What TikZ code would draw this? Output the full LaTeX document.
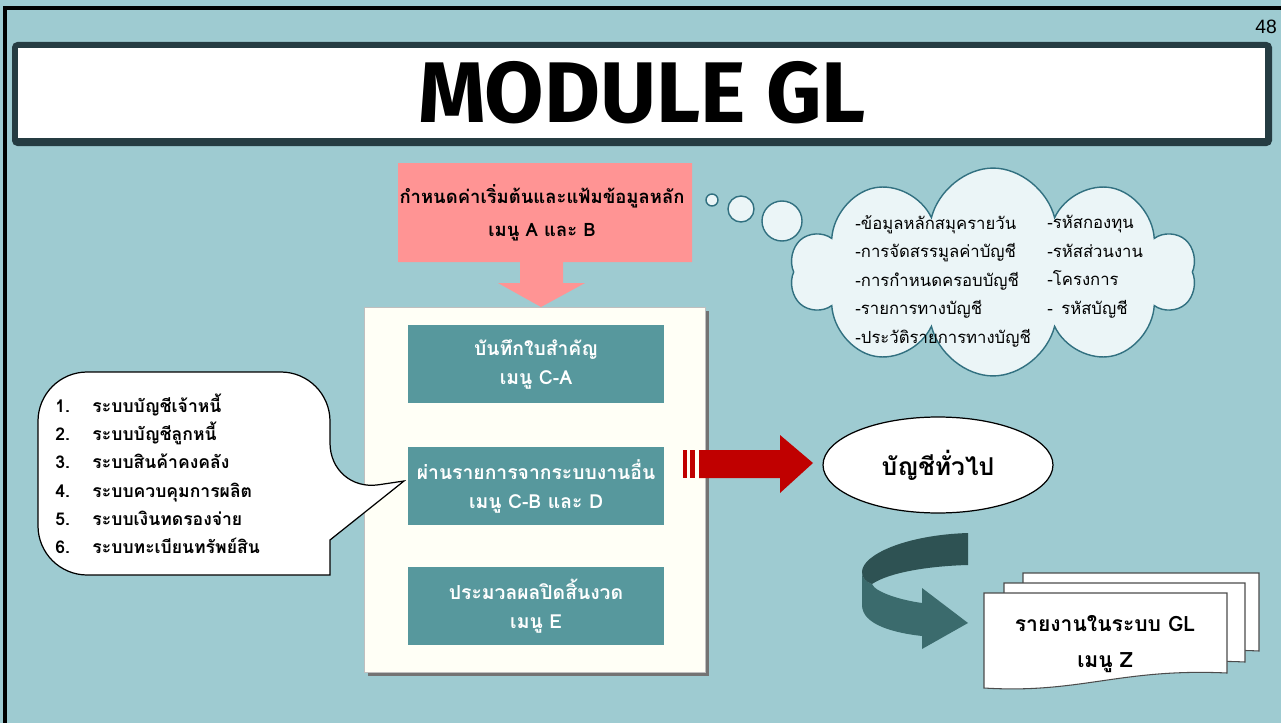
\documentclass[tikz,border=0pt]{standalone}
\usepackage{fontspec}
\setmainfont{Liberation Sans}
\newfontfamily\thai[Script=Thai]{Loma}
\newfontfamily\titlefont{Fira Sans}
\usetikzlibrary{shapes.symbols,shapes.geometric,shadows}
\definecolor{bgblue}{RGB}{158,203,209}
\definecolor{darkslate}{RGB}{37,60,66}
\definecolor{boxteal}{RGB}{87,152,157}
\definecolor{pinkbox}{RGB}{255,148,148}
\definecolor{cream}{RGB}{255,255,246}
\definecolor{arrowred}{RGB}{192,0,0}
\definecolor{cloudfill}{RGB}{235,245,247}
\definecolor{cloudline}{RGB}{49,112,128}
\definecolor{turnlight}{RGB}{59,107,109}
\definecolor{turndark}{RGB}{46,82,83}
\begin{document}
\begin{tikzpicture}[x=0.02cm,y=-0.02cm,
  menubox/.style={fill=boxteal,text=white,minimum width=5.12cm,minimum height=1.56cm,align=center,
    font=\thai\bfseries\fontsize{11}{16.5}\selectfont},
  bubble/.style={draw=cloudline,fill=cloudfill,thick},
  cloudtext/.style={anchor=north west,align=left,inner sep=0pt,font=\thai\fontsize{9.5}{16.2}\selectfont},
  page/.style={draw=black!70,fill=white,line width=0.6pt}]
\useasboundingbox (0,0) rectangle (1281,723);
\fill[bgblue] (0,0) rectangle (1281,723);
\draw[line width=2pt] (5,723) -- (5,8) -- (1281,8);
% title bar
\fill[darkslate,rounded corners=3] (12,42) rectangle (1272,146);
\fill[white] (18,48) rectangle (1265,138);
\node[font=\titlefont\bfseries\fontsize{49}{49}\selectfont] (title) at (642,93) {MODULE GL};
\node[font=\fontsize{11}{11}\selectfont] (pgnum) at (1266,27) {48};
% setup block with arrow
\fill[pinkbox] (398,163) -- (692,163) -- (692,262) -- (563,262) -- (563,283) -- (585,283) -- (541,307)
  -- (498,283) -- (520,283) -- (520,262) -- (398,262) -- cycle;
\node[align=center,font=\thai\bfseries\fontsize{10.5}{18.7}\selectfont] (setup) at (542,213)
  {กำหนดค่าเริ่มต้นและแฟ้มข้อมูลหลัก\\เมนู A และ B};
% main panel
\node[draw=black!25,fill=cream,minimum width=6.82cm,minimum height=7.3cm,
  drop shadow={shadow xshift=0.08cm,shadow yshift=-0.08cm,fill=black!55,opacity=1}] (panel) at (534.5,489.5) {};
\node[menubox] (voucher) at (536,364) {บันทึกใบสำคัญ\\เมนู C-A};
\node[menubox] (posting) at (536,486) {ผ่านรายการจากระบบงานอื่น\\เมนู C-B และ D};
\node[menubox] (closing) at (536,606) {ประมวลผลปิดสิ้นงวด\\เมนู E};
% callout with sub systems
\draw[fill=white,line width=0.7pt] (180,372) [rounded corners=28] -- (330,372) -- (330,492) [sharp corners]
  -- (404,481) -- (330,540) -- (330,575) [rounded corners=28] -- (38,575) -- (38,372) -- cycle;
\node[anchor=north west,inner sep=0pt,font=\thai\bfseries\fontsize{10}{16.1}\selectfont] (systems) at (55,392)
  {\begin{tabular}{@{}l@{\hspace{0.45cm}}l@{}}
  1. & ระบบบัญชีเจ้าหนี้\\
  2. & ระบบบัญชีลูกหนี้\\
  3. & ระบบสินค้าคงคลัง\\
  4. & ระบบควบคุมการผลิต\\
  5. & ระบบเงินทดรองจ่าย\\
  6. & ระบบทะเบียนทรัพย์สิน
  \end{tabular}};
% thought cloud
\draw[bubble] (712,200) circle (6);
\draw[bubble] (741,209) circle (13);
\draw[bubble] (782,221) circle (20);
\node[cloud,cloud puffs=10,aspect=2.1,bubble,minimum width=8.1cm,minimum height=3.96cm,inner sep=0pt,yscale=1.05] (cloud) at (993,272) {};
\node[cloudtext] (cloudleft) at (855,215) {-ข้อมูลหลักสมุครายวัน\\-การจัดสรรมูลค่าบัญชี\\-การกำหนดครอบบัญชี\\-รายการทางบัญชี\\-ประวัติรายการทางบัญชี};
\node[cloudtext] (cloudright) at (1047,215) {-รหัสกองทุน\\-รหัสส่วนงาน\\-โครงการ\\-\, รหัสบัญชี};
% red arrow to ledger
\fill[arrowred] (683,450) rectangle (687,478);
\fill[arrowred] (690,450) rectangle (695,478);
\fill[arrowred] (699,450) -- (780,450) -- (780,435) -- (813,463) -- (780,493) -- (780,478) -- (699,478) -- cycle;
\node[ellipse,draw,fill=white,line width=0.7pt,minimum width=4.6cm,minimum height=1.92cm,
  font=\thai\bfseries\fontsize{14}{14}\selectfont] (ledger) at (938,465) {บัญชีทั่วไป};
% turning arrow
\fill[turnlight] (862,572) -- (862,605) .. controls (862,625) and (895,633) .. (922,636) -- (922,649) -- (968,623)
  -- (922,588) -- (922,603) .. controls (900,600) and (875,592) .. (872,584) .. controls (866,582) and (862,578) .. (862,572) -- cycle;
\fill[turndark] (968,533) .. controls (905,535) and (862,555) .. (862,572) .. controls (862,578) and (866,582) .. (872,584)
  .. controls (890,572) and (930,566) .. (968,565) -- cycle;
% report pages
\draw[page] (1023,573) -- (1259,573) -- (1259,651) .. controls (1160,646) and (1120,672) .. (1023,666) -- cycle;
\draw[page] (1004,583) -- (1245,583) -- (1245,662) .. controls (1140,657) and (1100,683) .. (1004,677) -- cycle;
\draw[page] (984,593) -- (1227,593) -- (1227,673) .. controls (1120,668) and (1080,694) .. (984,688) -- cycle;
\node[align=center,font=\thai\bfseries\fontsize{12}{20}\selectfont] (report) at (1105,644) {รายงานในระบบ GL\\เมนู Z};
\end{tikzpicture}
\end{document}
